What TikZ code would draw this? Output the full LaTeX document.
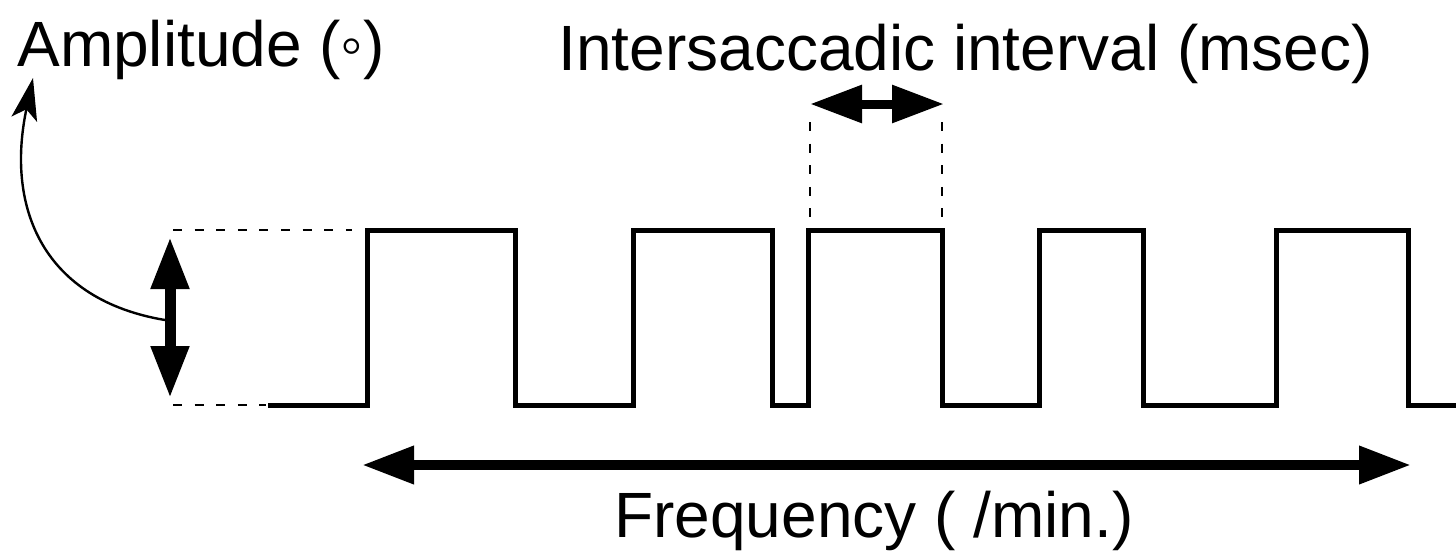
\documentclass[tikz,border=0pt]{standalone}
\usepackage{fontspec}
\setmainfont{Liberation Sans}
\usetikzlibrary{arrows.meta}

\begin{document}
\begin{tikzpicture}[x=0.5pt, y=-0.5pt,
    wave/.style={line width=2.5pt, line join=miter},
    guide/.style={line width=1pt, dash pattern=on 4.5pt off 6.3pt},
    fat/.style={{Triangle[length=26pt, width=18pt]}-{Triangle[length=26pt, width=18pt]}},
    txt/.style={font=\fontsize{32}{38}\selectfont, inner sep=0pt, anchor=base west}]
    \useasboundingbox (0,0) rectangle (1456,552);

    % Labels
    \node[txt] (amplabel) at (17,66) {Amplitude (◦)};
    \node[txt] (intlabel) at (558,70) {Intersaccadic interval (msec)};
    \node[txt] (freqlabel) at (614,537) {Frequency ( /min.)};

    % Arrow ends
    \coordinate (ampTop) at (170,237);
    \coordinate (ampBot) at (170,398);
    \coordinate (ampMid) at (165,320);
    \coordinate (ampTip) at (33,78);
    \coordinate (intL) at (810,104);
    \coordinate (intR) at (944,104);
    \coordinate (freqL) at (362,465);
    \coordinate (freqR) at (1411,465);

    % Saccade trace
    \draw[wave] (268,405)
        \foreach \a/\b in {367/515, 633/772, 808/942, 1039/1143, 1276/1408}
            { -- (\a,405) -- (\a,230) -- (\b,230) -- (\b,405) }
        -- (1460,405);

    % Guides
    \draw[guide] (173,230) -- (352,230);
    \draw[guide] (173,405) -- (266,405);
    \draw[guide] (810,122) -- (810,220);
    \draw[guide] (942,122) -- (942,220);

    % Arrows
    \draw[fat, line width=5.5pt] (ampTop) -- (ampBot);
    \draw[fat, line width=4.5pt] (intL) -- (intR);
    \draw[fat, line width=5pt] (freqL) -- (freqR);
    \draw[line width=1.2pt, -{Stealth[length=21pt, width=13pt, inset=5pt]}]
        (ampMid) .. controls (45,300) and (5,210) .. (ampTip);
\end{tikzpicture}
\end{document}
